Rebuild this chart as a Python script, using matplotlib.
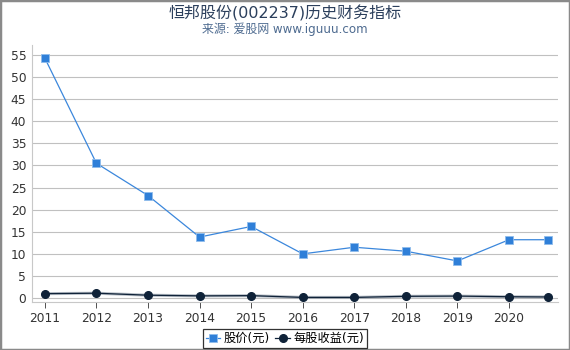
import matplotlib

matplotlib.use("Agg")
import matplotlib.pyplot as plt

plt.rcParams["font.family"] = ["DejaVu Sans", "Noto Sans CJK SC"]

# report dates as fractional years (last one is a Q3 report)
years = [2011, 2012, 2013, 2014, 2015, 2016, 2017, 2018, 2019, 2020, 2020.75]
price = [54.3, 30.5, 23.2, 13.8, 16.2, 10.0, 11.5, 10.6, 8.4, 13.2, 13.2]
eps = [1.0, 1.1, 0.65, 0.5, 0.55, 0.15, 0.15, 0.4, 0.45, 0.3, 0.25]
tick_years = list(range(2011, 2021))
y_ticks = list(range(0, 60, 5))

fig = plt.figure(figsize=(5.7, 3.5), dpi=100)
ax = fig.add_axes([0.056, 0.137, 0.923, 0.735])

ax.plot(years, price, color="#3b87dc", lw=0.9, marker="s", ms=6,
        mfc="#2f7fd8", mec="#8fbcec", mew=0.6, label="股价(元)", zorder=3)
ax.plot(years, eps, color="#8a95a3", lw=2.2, alpha=0.6, zorder=2)
ax.plot(years, eps, color="#0f2238", lw=0.9, marker="o", ms=5.5,
        mfc="#0f2238", mec="#0f2238", label="每股收益(元)", zorder=4)

ax.set_xlim(2010.75, 2020.95)
ax.set_ylim(-0.9, 57.3)
ax.set_xticks(tick_years)
ax.set_yticks(y_ticks)
ax.tick_params(axis="both", labelsize=8.8, colors="#333333", length=4, width=0.6)
ax.tick_params(axis="y", length=0, pad=4)
ax.grid(axis="y", color="#c0c0c0", lw=0.8)
ax.set_axisbelow(True)
for side in ("top", "right"):
    ax.spines[side].set_visible(False)
for side in ("left", "bottom"):
    ax.spines[side].set_color("#c8c8c8")
    ax.spines[side].set_linewidth(0.8)

fig.text(0.5, 0.963, "恒邦股份(002237)历史财务指标", ha="center", va="center",
         fontsize=11.5, color="#2b3f5c")
fig.text(0.5, 0.915, "来源: 爱股网 www.iguuu.com", ha="center", va="center",
         fontsize=8.6, color="#4e6b90")

leg = fig.legend(loc="lower center", bbox_to_anchor=(0.5, 0.0), ncol=2,
                 fontsize=8.8, frameon=True, fancybox=False, handlelength=1.2,
                 handletextpad=0.3, columnspacing=0.4, borderpad=0.25,
                 borderaxespad=0.15)
leg.get_frame().set_edgecolor("black")
leg.get_frame().set_linewidth(0.9)

fig.patches.append(plt.Rectangle((0, 0), 1, 1, transform=fig.transFigure,
                                 fill=False, edgecolor="#8a8a8a", lw=2.5))

fig.savefig("out.png", dpi=100)
